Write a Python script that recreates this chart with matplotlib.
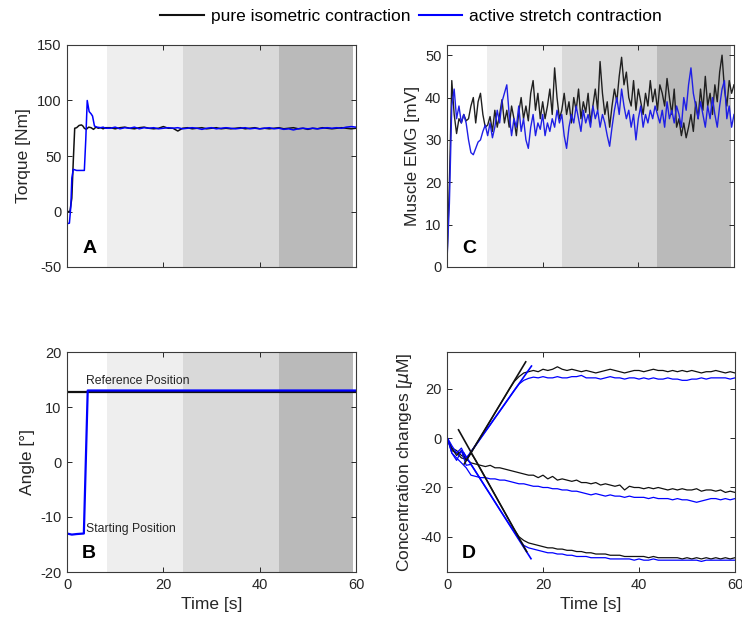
import numpy as np
import matplotlib.pyplot as plt
from matplotlib.lines import Line2D

plt.rcParams['font.family'] = ['Liberation Sans', 'DejaVu Sans']
plt.rcParams['axes.unicode_minus'] = False

# ---- experiment phases (background shading), seconds ----
phase_edges = [8.3, 24.1, 44.0, 59.3]
phase_colors = ["#eeeeee", "#d9d9d9", "#bababa"]

# ---- A: torque [Nm] ----
torque_t_iso = [0, 0.6, 1.0, 1.3, 1.6, 2.0, 2.5, 3.0, 3.3, 3.6, 4.0, 4.5, 5.0, 5.5, 6.0, 6.5, 7.0, 7.5, 8.0,
                9, 10, 11, 12, 13, 14, 15, 16, 17, 18, 19, 20, 21, 22, 23, 24, 25, 26, 27, 28, 29, 30,
                31, 32, 33, 34, 35, 36, 37, 38, 39, 40, 41, 42, 43, 44, 45, 46, 47, 48, 49, 50,
                51, 52, 53, 54, 55, 56, 57, 58, 59, 60]
torque_iso = [0, 0, 12, 45, 75, 75.5, 77.5, 78, 77, 75, 74, 76, 75.5, 74, 76, 75, 75.5, 74.5, 75.5,
              75.5, 74.5, 75.5, 76, 75, 74.5, 75.5, 76, 75, 74.5, 75, 76.5, 75, 75, 72.5, 75, 75.5, 74.5, 75, 75.5, 74.5, 75,
              75.5, 74.5, 75, 74.5, 75, 75.5, 74.5, 75, 75.5, 74.5, 75, 74.5, 75, 75.5, 74.5, 75, 75.5, 74.5, 75, 74,
              75, 74.5, 75.5, 75, 74.5, 75, 75.5, 75, 74.5, 75]
torque_t_str = [0, 0.5, 0.8, 1.0, 1.3, 2.0, 2.8, 3.6, 3.9, 4.2, 4.6, 5.0, 5.3, 5.7, 6.2, 7.0, 7.5, 8.0,
                9, 10, 11, 12, 13, 14, 15, 16, 17, 18, 19, 20, 21, 22, 23, 24, 25, 26, 27, 28, 29, 30,
                31, 32, 33, 34, 35, 36, 37, 38, 39, 40, 41, 42, 43, 44, 45, 46, 47, 48, 49, 50,
                51, 52, 53, 54, 55, 56, 57, 58, 59, 60]
torque_str = [-11, -10.5, 5, 30, 38, 37, 37, 37, 65, 100, 90, 88, 86, 77, 76, 75.5, 76, 75,
              75, 76, 74.5, 75.5, 75, 76, 74.5, 75.5, 75, 75.5, 74.5, 75, 75.5, 75, 75.5, 74.5, 75, 75.5, 75, 74, 75, 75.5,
              74.5, 75, 75.5, 75, 74.5, 75, 75.5, 74.5, 75, 74.5, 75, 75.5, 74.5, 75, 74, 74.5, 73.5, 74.5, 75, 74.5,
              75, 74.5, 75, 75.5, 75, 75.5, 75, 76, 76.5, 76]

# ---- B: ankle angle [deg] ----
angle_t_iso = [0, 60]
angle_iso = [12.8, 12.8]
angle_t_str = [0, 1, 2, 3.5, 4.3, 5, 60]
angle_str = [-13, -13.2, -13.1, -13, 13, 13, 13]

# ---- C: muscle EMG [mV], sampled every 0.5 s ----
emg_iso = [1.5, 20, 44, 36, 31.5, 35, 34, 36, 34.5, 35, 38, 40, 34, 39, 41, 36, 33,
           33.5, 35.5, 32, 37, 33, 36, 39.5, 34, 37, 33, 38, 35, 31, 36.5, 40, 35, 38, 34.5,
           41, 44, 37, 41, 35, 39, 35, 38, 42, 36, 47, 40, 35, 37, 41, 36, 39, 34, 40, 37,
           42, 35, 39, 36.5, 41, 34, 38, 42, 37, 48.5, 41, 36, 39, 33, 38, 42, 39, 45, 49.5,
           43, 46, 40, 38, 44, 37, 42, 39, 36, 41, 38, 44, 39, 42, 37, 43, 41, 38, 44.5, 40,
           36, 42, 33, 35, 31, 34, 30.5, 33, 36, 32, 39, 35, 42, 37, 45, 38, 41, 36, 43, 39,
           46, 50, 42, 38, 44, 41, 43]
emg_str = [1.5, 15, 38, 42, 35, 38, 34, 36, 34, 30, 27, 26.5, 28, 29.5, 30, 32, 33.5,
           31, 34, 30.5, 33, 37, 34, 39, 41, 43, 36, 31, 35, 33, 38, 32, 35, 30, 28, 33,
           36, 31, 34, 32.5, 36, 31, 34, 32, 35, 33, 37, 34, 36, 31, 28, 33, 36, 34, 38,
           35, 32, 37, 34, 36, 33, 38, 35, 37, 33, 36, 34, 31, 28.5, 33, 37, 40, 36, 42,
           38, 35, 37, 33, 36, 30, 35, 38, 33, 36, 34, 37, 35, 38, 36, 34, 37, 33, 39, 35,
           37, 34, 38, 36, 33, 40, 37, 43, 47, 41, 38, 35, 39, 36, 33, 38, 35, 40, 36, 33,
           38, 42, 44, 35, 38, 33, 36]

# ---- D: concentration changes [uM], sampled every 1 s ----
conc_up_iso = [0, -4, -7, -5, -9, -6, -2.6, 0.6, 3.8, 7, 10.3, 13.5, 16.7, 20, 23, 25, 26.5,
               27, 27.5, 27, 28, 27.5, 28, 29, 28, 27.5, 28, 27.5, 27, 27.5, 27, 26.5, 27,
               27.5, 28, 27.5, 27, 26.5, 27, 27.5, 27.5, 27, 27.5, 28, 27.5, 27.5, 27, 27.5,
               27, 27.5, 27, 27.5, 27, 26.5, 27, 27, 27.5, 27, 26.5, 27, 26.5]
conc_up_str = [0.5, -3, -6, -4, -8, -5.5, -2.8, 0, 2.8, 5.5, 8.3, 11, 13.8, 16.6, 19.4, 22,
               23.5, 24.3, 24.8, 24.5, 25, 24.5, 24.5, 25, 24.5, 24.5, 25, 25, 25.5, 24.5,
               24.5, 24.5, 24, 24.5, 25, 24.5, 24.5, 24, 24.5, 24.5, 24, 24.5, 24, 24.5, 24,
               24, 24.5, 24, 24, 23.5, 23.5, 24, 24, 24.5, 24, 24.5, 24.5, 24.5, 24.5, 24, 24.5]
conc_mid_iso = [0, -5, -6, -8, -8.5, -10, -10.5, -11, -11.5, -11, -12, -12, -12.5, -13,
                -13.5, -14, -14.5, -15, -15, -16, -15, -16.5, -15.5, -17, -16.5, -17, -17.5,
                -17, -18, -18, -18.5, -18, -19, -18.5, -19, -19.5, -19, -21, -19.5, -20, -20,
                -20.5, -20, -20.5, -20, -20.5, -21, -20.5, -21, -20.5, -21, -21, -20.5, -21.5,
                -21, -21, -21.5, -21, -22, -21.5, -22]
conc_mid_str = [0.5, -6, -8, -10, -12, -15, -15.5, -16, -16, -16.5, -16.5, -17, -17, -17.5,
                -18, -18.5, -18.5, -19, -19.5, -19.5, -20, -20, -20.5, -20.5, -21, -21, -21.5,
                -21.5, -22, -22.5, -23, -22.5, -23, -23.5, -23, -23.5, -23.5, -24, -23.5, -24,
                -24, -24, -24.5, -24, -24.5, -24.5, -24.5, -25, -24.5, -25, -25, -25.5, -26,
                -25.5, -25, -24.5, -24.5, -25, -24.5, -25, -24.5]
conc_low_iso = [0, -4, -5, -7, -8, -6, -9, -12.5, -16, -19.5, -23, -26.5, -30, -33.5, -37,
                -40, -41.5, -42.5, -43, -43.5, -44, -44.5, -44.5, -45, -45, -45.5, -45.5, -46,
                -46, -46.5, -46.5, -47, -47, -47, -47.5, -47.5, -47.5, -48, -48, -48, -48, -48,
                -48.5, -48, -48.5, -48.5, -48.5, -48.5, -48.5, -49, -48.5, -49, -48.5, -49, -48.5,
                -49, -48.5, -49, -48.5, -49, -48.5]
conc_low_str = [0.5, -6, -9, -5, -11, -10.6, -13.6, -16.7, -19.8, -22.8, -25.9, -29, -32, -35,
                -38, -41, -43.5, -44.5, -45, -45.5, -46, -46.5, -46.5, -47, -47, -47.5, -47.5,
                -48, -48, -48, -48.5, -48.5, -48.5, -48.5, -49, -49, -49, -49, -49, -49.5, -49,
                -49.5, -49.5, -49, -49.5, -49.5, -49.5, -49.5, -49.5, -49.5, -49.5, -49.5, -49.5,
                -50, -49.5, -49.5, -49.5, -49.5, -49.5, -49.5, -49.5]
# regression lines over the onset phase (start/end time, start/end value)
fit_t_up_iso, fit_up_iso = [3.6, 16.4], [-10.4, 31]
fit_t_up_str, fit_up_str = [4.8, 17.6], [-6.1, 29.3]
fit_t_low_iso, fit_low_iso = [2.4, 16.6], [3.4, -46]
fit_t_low_str, fit_low_str = [3.5, 17.5], [-6, -48.9]

t_emg = np.arange(len(emg_iso)) * 0.5
t_conc = np.arange(len(conc_up_iso)) * 1.0

BLUE = "#0000ff"
BLACK = "#111111"
TXT = "#262626"

W, H = 742, 623
fig = plt.figure(figsize=(W / 100, H / 100), dpi=100)


def make_ax(x0, y0, x1, y1):
    # pixel box (left, top, right, bottom) -> figure fraction
    return fig.add_axes([x0 / W, 1 - y1 / H, (x1 - x0) / W, (y1 - y0) / H])


axA = make_ax(67, 45, 356, 267)
axC = make_ax(447, 45, 734, 267)
axB = make_ax(67, 352, 356, 572)
axD = make_ax(447, 352, 735, 572)

for ax in (axA, axB, axC):
    for (a, b), c in zip(zip(phase_edges[:-1], phase_edges[1:]), phase_colors):
        ax.axvspan(a, b, color=c, lw=0, zorder=0)

axA.plot(torque_t_iso, torque_iso, color=BLACK, lw=1.1)
axA.plot(torque_t_str, torque_str, color=BLUE, lw=1.1)
axA.set_ylim(-50, 150)
axA.set_yticks([-50, 0, 50, 100, 150])
axA.set_ylabel("Torque [Nm]")

axB.plot(angle_t_iso, angle_iso, color=BLACK, lw=1.6)
axB.plot(angle_t_str, angle_str, color=BLUE, lw=1.6)
axB.set_ylim(-20, 20)
axB.set_yticks([-20, -10, 0, 10, 20])
axB.set_ylabel("Angle [°]")
axB.set_xlabel("Time [s]")
axB.text(3.9, 14.2, "Reference Position", fontsize=8.8, color=TXT)
axB.text(3.9, -12.7, "Starting Position", fontsize=8.8, color=TXT)

axC.plot(t_emg, emg_iso, color="#202020", lw=1.0)
axC.plot(t_emg, emg_str, color="#1f1fe6", lw=1.0)
axC.set_ylim(0, 52.4)
axC.set_yticks([0, 10, 20, 30, 40, 50])
axC.set_ylabel("Muscle EMG [mV]")

for y in (conc_up_iso, conc_mid_iso, conc_low_iso):
    axD.plot(t_conc, y, color=BLACK, lw=0.9)
for y in (conc_up_str, conc_mid_str, conc_low_str):
    axD.plot(t_conc, y, color=BLUE, lw=0.9)
axD.plot(fit_t_up_str, fit_up_str, color=BLUE, lw=1.2)
axD.plot(fit_t_low_str, fit_low_str, color=BLUE, lw=1.2)
axD.plot(fit_t_up_iso, fit_up_iso, color=BLACK, lw=1.2)
axD.plot(fit_t_low_iso, fit_low_iso, color=BLACK, lw=1.2)
axD.set_ylim(-54.3, 35)
axD.set_yticks([-40, -20, 0, 20])
axD.set_ylabel(r"Concentration changes [$\mu$M]")
axD.set_xlabel("Time [s]")

for ax, letter in ((axA, "A"), (axB, "B"), (axC, "C"), (axD, "D")):
    ax.set_xlim(0, 60)
    ax.set_xticks([0, 20, 40, 60])
    ax.tick_params(direction="in", top=True, right=True, length=3.5, width=0.7,
                   labelsize=10.5, colors=TXT, pad=4)
    ax.xaxis.label.set_size(12.5)
    ax.yaxis.label.set_size(12.5)
    ax.xaxis.label.set_color(TXT)
    ax.yaxis.label.set_color(TXT)
    for s in ax.spines.values():
        s.set_color("#3a3a3a")
        s.set_linewidth(0.8)
    ax.text(0.052, 0.065, letter, transform=ax.transAxes, fontsize=14,
            fontweight="bold", color="black")

axA.tick_params(labelbottom=False)
axC.tick_params(labelbottom=False)

handles = [Line2D([], [], color=BLACK, lw=1.5), Line2D([], [], color=BLUE, lw=1.5)]
fig.legend(handles, ["pure isometric contraction", "active stretch contraction"],
           loc="center", bbox_to_anchor=(0.554, 0.974), ncol=2, frameon=False,
           fontsize=12.5, handlelength=2.5, handletextpad=0.4, columnspacing=0.5)

fig.savefig("out.png", dpi=100)
